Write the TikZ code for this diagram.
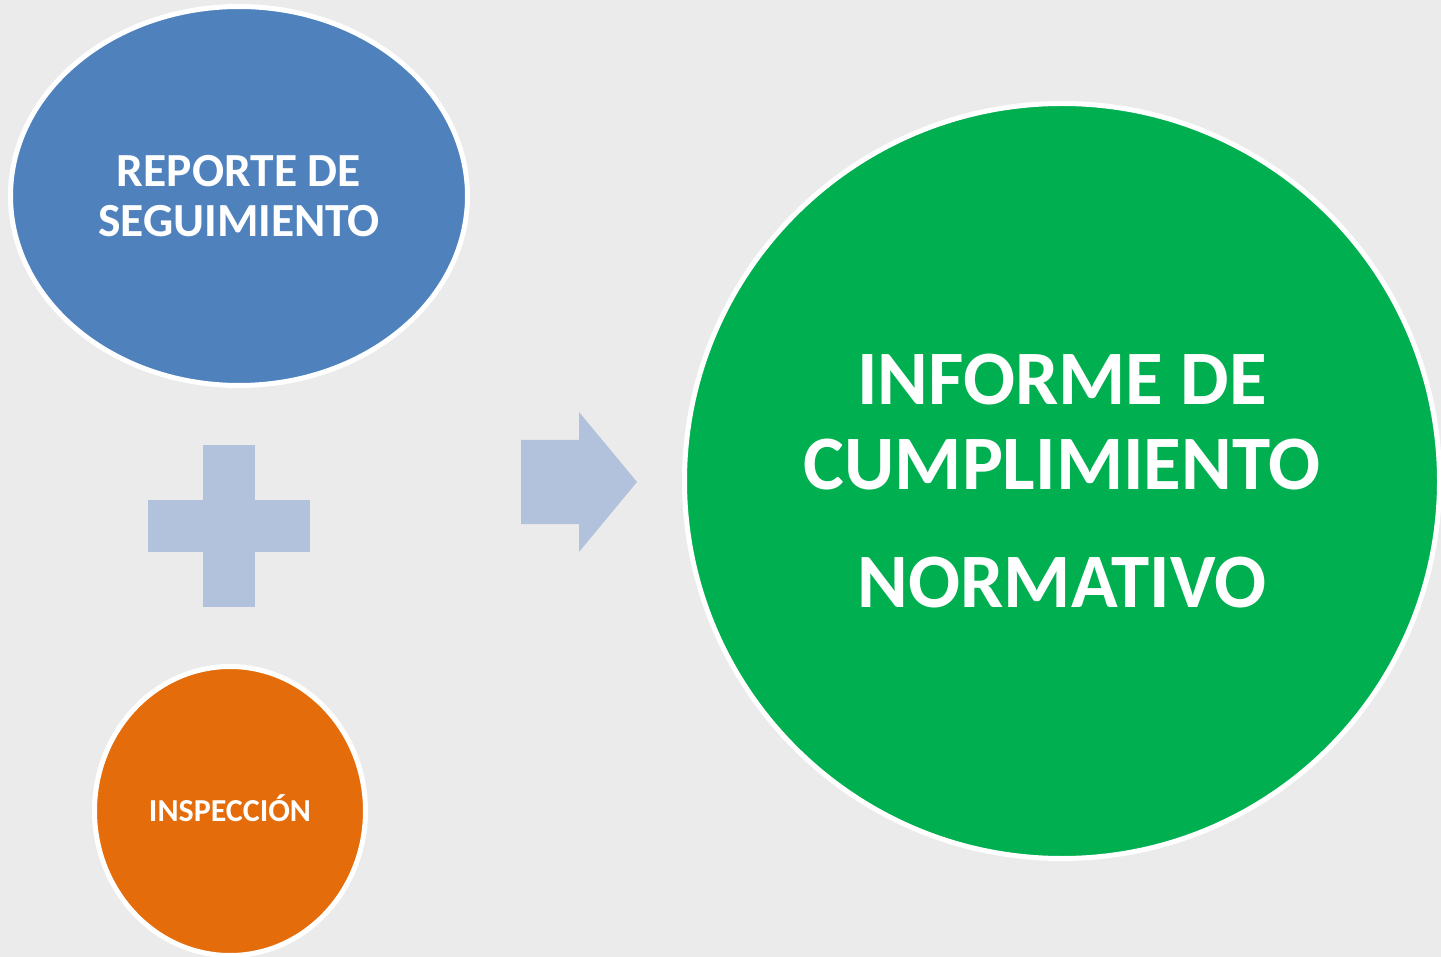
\documentclass[tikz,border=0pt]{standalone}
\usepackage{fontspec}
\setmainfont{Carlito}
\usepackage{xcolor}
\usepackage{tikz}
\usetikzlibrary{shapes.geometric}
\definecolor{fondo}{HTML}{EBEBEB}
\definecolor{azul}{HTML}{4F81BD}
\definecolor{naranja}{HTML}{E46C0A}
\definecolor{verde}{HTML}{00AF50}
\definecolor{celeste}{HTML}{B2C2DC}

\begin{document}
\begin{tikzpicture}[x=1pt,y=-1pt,
    burbuja/.style={ellipse,draw=white,line width=5pt,inner sep=0pt,text=white,align=center}]
    \fill[fondo] (0,0) rectangle (1441,957);
    \useasboundingbox (0,0) rectangle (1441,957);

    \node[burbuja,fill=azul,minimum width=457pt,minimum height=379pt,
        font=\fontsize{47.5}{50}\selectfont\bfseries] (reporte) at (239,196) {REPORTE DE\\SEGUIMIENTO};
    \node[burbuja,fill=naranja,minimum width=271pt,minimum height=289pt] (inspeccion) at (230,811) {};
    \node[text=white,font=\fontsize{32}{34}\selectfont\bfseries] (inspeccionlabel)
        at ([yshift=3pt]inspeccion.center) {INSPECCIÓN};
    \node[burbuja,fill=verde,minimum width=755pt,minimum height=755pt,
        font=\fontsize{77}{85}\selectfont\bfseries] (informe) at (1062,481) {INFORME DE\\CUMPLIMIENTO\\[33pt]NORMATIVO};

    \fill[celeste] (148,500) rectangle (310,552);
    \fill[celeste] (203,445) rectangle (255,607);
    \fill[celeste] (521,440) -- (579,440) -- (579,412) -- (637,482)
        -- (579,552) -- (579,524) -- (521,524) -- cycle;
\end{tikzpicture}
\end{document}
